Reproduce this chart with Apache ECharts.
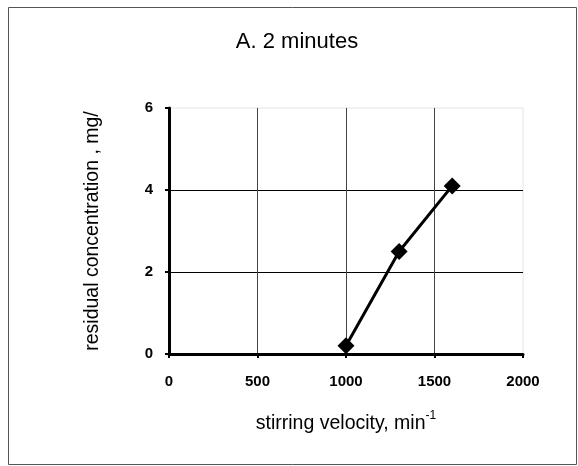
<!DOCTYPE html>
<html><head><meta charset="utf-8">
<script src="https://cdn.jsdelivr.net/npm/echarts@6/dist/echarts.min.js"></script>
<style>html,body{margin:0;padding:0;background:#fff}#c{width:578px;height:466px}</style>
</head><body><div id="c"></div>
<script>
const velocity = [1000, 1300, 1600];
const concentration = [0.2, 2.5, 4.1];
const xTicks = [0, 500, 1000, 1500, 2000];
const yTicks = [0, 2, 4, 6];
const titleText = 'A. 2 minutes';
const xName = 'stirring velocity, min';
const yName = 'residual concentration , mg/';

const chart = echarts.init(document.getElementById('c'));
chart.setOption({
  animation: false,
  backgroundColor: '#fff',
  title: {
    text: titleText, left: 292, top: 26, textAlign: 'center',
    textStyle: { fontFamily: 'Liberation Sans', fontSize: 22, fontWeight: 'normal', color: '#000' }
  },
  graphic: [{
    type: 'rect', shape: { x: 8.5, y: 7.5, width: 568, height: 457 },
    style: { fill: 'none', stroke: '#555', lineWidth: 1 }, silent: true, z: -1
  }],
  grid: { left: 169, right: 55, top: 108, bottom: 112, show: true, borderColor: '#e4e4e4', borderWidth: 1 },
  xAxis: {
    type: 'value', min: xTicks[0], max: xTicks[xTicks.length - 1], interval: 500,
    name: '{a|' + xName + '}{s|-1}', nameLocation: 'middle', nameGap: 56,
    nameTextStyle: { rich: {
      a: { fontFamily: 'Liberation Sans', fontSize: 19.5, color: '#000', verticalAlign: 'bottom', lineHeight: 24 },
      s: { fontFamily: 'Liberation Sans', fontSize: 12, color: '#000', verticalAlign: 'top', padding: [0, 0, 12, 0], lineHeight: 24 }
    } },
    axisLine: { show: true, onZero: false, lineStyle: { color: '#000', width: 3 } },
    axisTick: { show: true, length: 4, lineStyle: { color: '#000', width: 2 } },
    axisLabel: { fontFamily: 'Liberation Sans', fontSize: 15, fontWeight: 'bold', color: '#000', margin: 20,
      formatter: v => String(v) },
    splitLine: { show: true, showMaxLine: false, lineStyle: { color: '#444', width: 1 } }
  },
  yAxis: {
    type: 'value', min: yTicks[0], max: yTicks[yTicks.length - 1], interval: 2,
    name: yName, nameLocation: 'middle', nameGap: 66, nameRotate: 90,
    nameTextStyle: { fontFamily: 'Liberation Sans', fontSize: 19.5, color: '#000' },
    axisLine: { show: true, onZero: false, lineStyle: { color: '#000', width: 3 } },
    axisTick: { show: true, length: 4, lineStyle: { color: '#000', width: 2 } },
    axisLabel: { fontFamily: 'Liberation Sans', fontSize: 15, fontWeight: 'bold', color: '#000', margin: 16,
      formatter: v => String(v) },
    splitLine: { show: true, showMaxLine: false, lineStyle: { color: '#000', width: 1 } }
  },
  series: [{
    type: 'line',
    data: velocity.map((v, i) => [v, concentration[i]]),
    symbol: 'diamond', symbolSize: 17,
    lineStyle: { color: '#000', width: 3 },
    itemStyle: { color: '#000' },
    z: 5
  }]
});
</script></body></html>
